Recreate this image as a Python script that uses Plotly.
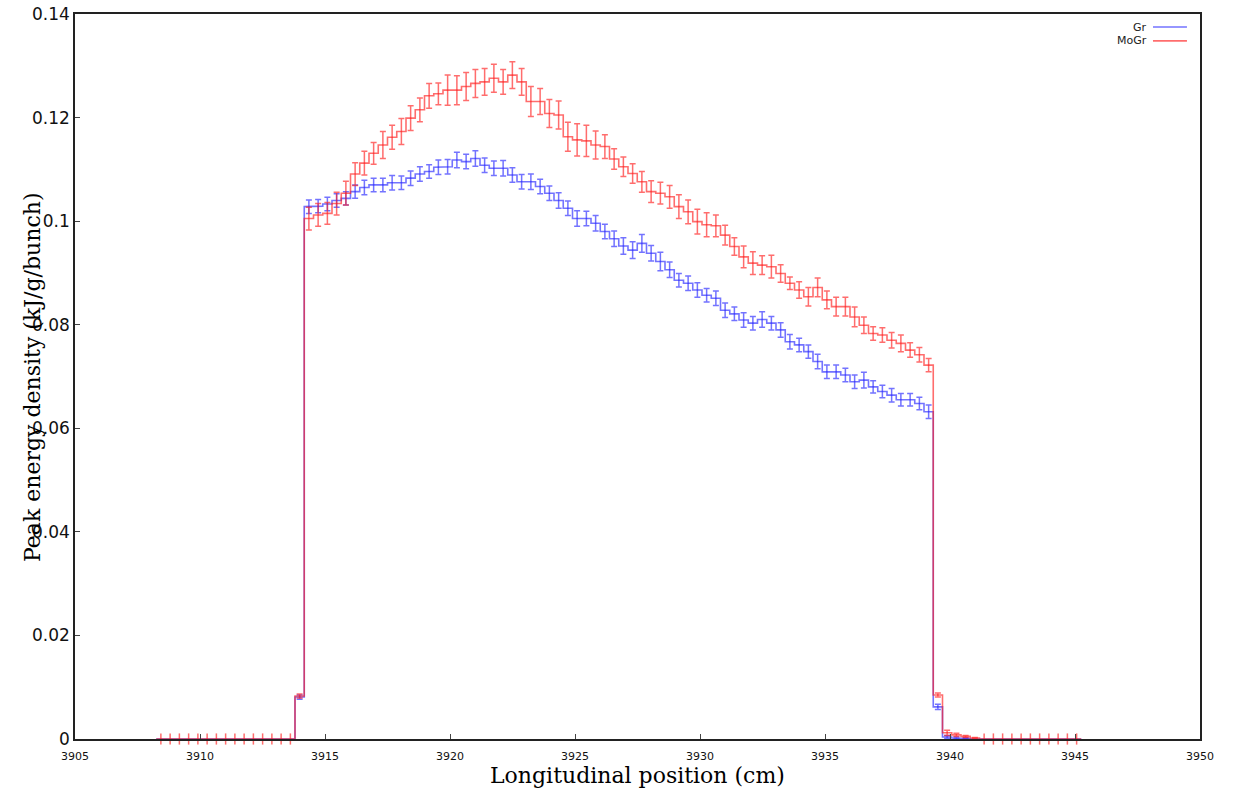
import numpy as np
import plotly.graph_objects as go

# Histogram binning along the beam axis (cm)
bin_start = 3908.25
bin_width = 0.37
n_bins = 100

# Peak energy density per bin (kJ/g/bunch)
gr_values = [
    0.0, 0.0, 0.0, 0.0, 0.0, 0.0, 0.0, 0.0, 0.0, 0.0,
    0.0, 0.0, 0.0, 0.0, 0.0, 0.0081,
    0.1028, 0.1029, 0.1033, 0.1040, 0.1044, 0.1057, 0.1065, 0.1070, 0.1070, 0.1074,
    0.1074, 0.1083, 0.1091, 0.1096, 0.1104, 0.1105, 0.1118, 0.1115, 0.1121, 0.1108,
    0.1102, 0.1102, 0.1089, 0.1076, 0.1076, 0.1067, 0.1054, 0.1040, 0.1025, 0.1005,
    0.1005, 0.0996, 0.0980, 0.0966, 0.0952, 0.0944, 0.0957, 0.0938, 0.0922, 0.0906,
    0.0886, 0.0880, 0.0867, 0.0857, 0.0851, 0.0828, 0.0821, 0.0809, 0.0803, 0.0810,
    0.0803, 0.0790, 0.0767, 0.0761, 0.0748, 0.0729, 0.0709, 0.0709, 0.0703, 0.0690,
    0.0693, 0.0680, 0.0671, 0.0664, 0.0655, 0.0655, 0.0648, 0.0632,
    0.0062, 0.0004, 0.0002, 0.0001, 0.0,
    0.0, 0.0, 0.0, 0.0, 0.0, 0.0, 0.0, 0.0, 0.0, 0.0, 0.0,
]
gr_errors = [
    0.0, 0.0, 0.0, 0.0, 0.0, 0.0, 0.0, 0.0, 0.0, 0.0,
    0.0, 0.0, 0.0, 0.0, 0.0, 0.0004,
    0.0013, 0.0013, 0.0013, 0.0013, 0.0013, 0.0013, 0.0014, 0.0013, 0.0013, 0.0014,
    0.0013, 0.0014, 0.0014, 0.0013, 0.0014, 0.0014, 0.0015, 0.0014, 0.0015, 0.0014,
    0.0014, 0.0015, 0.0014, 0.0014, 0.0015, 0.0014, 0.0014, 0.0015, 0.0014, 0.0015,
    0.0014, 0.0015, 0.0014, 0.0015, 0.0016, 0.0016, 0.0017, 0.0015, 0.0018, 0.0015,
    0.0013, 0.0014, 0.0014, 0.0013, 0.0014, 0.0014, 0.0013, 0.0014, 0.0013, 0.0015,
    0.0013, 0.0014, 0.0014, 0.0013, 0.0013, 0.0014, 0.0013, 0.0013, 0.0013, 0.0013,
    0.0015, 0.0012, 0.0012, 0.0013, 0.0012, 0.0012, 0.0012, 0.0013,
    0.0005, 0.0003, 0.0002, 0.0001, 0.0,
    0.0, 0.0, 0.0, 0.0, 0.0, 0.0, 0.0, 0.0, 0.0, 0.0, 0.0,
]

mogr_values = [
    0.0, 0.0, 0.0, 0.0, 0.0, 0.0, 0.0, 0.0, 0.0, 0.0,
    0.0, 0.0, 0.0, 0.0, 0.0, 0.0083,
    0.1005, 0.1012, 0.1015, 0.1034, 0.1054, 0.1091, 0.1112, 0.1131, 0.1147, 0.1162,
    0.1173, 0.1199, 0.1215, 0.1242, 0.1246, 0.1253, 0.1253, 0.1260, 0.1266, 0.1269,
    0.1276, 0.1269, 0.1282, 0.1269, 0.1231, 0.1231, 0.1208, 0.1205, 0.1163, 0.1157,
    0.1155, 0.1147, 0.1144, 0.1120, 0.1105, 0.1092, 0.1076, 0.1057, 0.1054, 0.1047,
    0.1028, 0.1018, 0.0999, 0.0993, 0.0991, 0.0973, 0.0951, 0.0931, 0.0919, 0.0915,
    0.0912, 0.0899, 0.0880, 0.0867, 0.0854, 0.0872, 0.0848, 0.0835, 0.0835, 0.0815,
    0.0799, 0.0783, 0.0780, 0.0770, 0.0764, 0.0751, 0.0742, 0.0722,
    0.0085, 0.0012, 0.0008, 0.0005, 0.0002,
    0.0, 0.0, 0.0, 0.0, 0.0, 0.0, 0.0, 0.0, 0.0, 0.0, 0.0,
]
mogr_errors = [
    0.0, 0.0, 0.0, 0.0, 0.0, 0.0, 0.0, 0.0, 0.0, 0.0,
    0.0, 0.0, 0.0, 0.0, 0.0, 0.0004,
    0.0022, 0.0022, 0.0021, 0.0022, 0.0023, 0.0022, 0.0023, 0.0021, 0.0026, 0.0023,
    0.0025, 0.0024, 0.0023, 0.0024, 0.0021, 0.0029, 0.0028, 0.0027, 0.0027, 0.0026,
    0.0027, 0.0024, 0.0026, 0.0026, 0.0029, 0.0025, 0.0027, 0.0027, 0.0028, 0.0031,
    0.0030, 0.0027, 0.0023, 0.0020, 0.0019, 0.0019, 0.0020, 0.0021, 0.0021, 0.0022,
    0.0023, 0.0023, 0.0024, 0.0023, 0.0021, 0.0019, 0.0017, 0.0021, 0.0022, 0.0018,
    0.0022, 0.0017, 0.0012, 0.0016, 0.0018, 0.0018, 0.0017, 0.0018, 0.0018, 0.0019,
    0.0016, 0.0013, 0.0014, 0.0015, 0.0016, 0.0014, 0.0014, 0.0013,
    0.0004, 0.0005, 0.0003, 0.0002, 0.0001,
    0.0, 0.0, 0.0, 0.0, 0.0, 0.0, 0.0, 0.0, 0.0, 0.0, 0.0,
]

x_ticks = [3905, 3910, 3915, 3920, 3925, 3930, 3935, 3940, 3945, 3950]
y_ticks = [0, 0.02, 0.04, 0.06, 0.08, 0.1, 0.12, 0.14]

edges = bin_start + bin_width * np.arange(n_bins + 1)
centers = 0.5 * (edges[:-1] + edges[1:])


def step_xy(vals):
    """Outline of a histogram: each bin drawn flat from edge to edge."""
    vals = np.asarray(vals)
    xs = np.repeat(edges, 2)[1:-1]
    ys = np.repeat(vals, 2)
    return xs, ys


# (name, values, errors, colour, mark empty bins on the axis)
series = [
    ("Gr", gr_values, gr_errors, "rgba(40,40,255,0.65)", False),
    ("MoGr", mogr_values, mogr_errors, "rgba(255,30,30,0.65)", True),
]

fig = go.Figure()
for name, vals, errs, color, mark_empty in series:
    vals = np.asarray(vals)
    errs = np.asarray(errs)
    xs, ys = step_xy(vals)
    fig.add_trace(go.Scatter(
        x=xs, y=ys, mode="lines", name=name,
        line=dict(color=color, width=1.6), showlegend=False,
        hoverinfo="skip",
    ))
    filled = vals > 0
    fig.add_trace(go.Scatter(
        x=centers[filled], y=vals[filled], mode="markers",
        marker=dict(size=1, color="rgba(0,0,0,0)"),
        error_y=dict(type="data", array=errs[filled], visible=True,
                     color=color, thickness=1.5, width=3),
        showlegend=False, hoverinfo="skip",
    ))
    if mark_empty:
        empty = ~filled
        fig.add_trace(go.Scatter(
            x=centers[empty], y=vals[empty], mode="markers",
            marker=dict(symbol="line-ns-open", size=8, color=color,
                        line=dict(color=color, width=1.5)),
            cliponaxis=False, showlegend=False, hoverinfo="skip",
        ))

# Legend entries in the top-right corner: label then a line sample
legend_rows = [("Gr", 0.982, "rgba(40,40,255,0.65)"),
               ("MoGr", 0.963, "rgba(255,30,30,0.65)")]
for label, yy, color in legend_rows:
    fig.add_annotation(x=0.9547, y=yy, xref="paper", yref="paper",
                       text=label, showarrow=False, xanchor="right",
                       yanchor="middle",
                       font=dict(family="DejaVu Sans", size=11, color="#222"))
    fig.add_shape(type="line", xref="paper", yref="paper",
                  x0=0.9582, x1=0.9884, y0=yy, y1=yy,
                  line=dict(color=color, width=1.6))

# Axis titles
fig.add_annotation(x=0.5004, y=-0.03, xref="paper", yref="paper",
                   text="Longitudinal position (cm)", showarrow=False,
                   xanchor="center", yanchor="top",
                   font=dict(family="DejaVu Serif", size=22, color="#000"))
fig.add_annotation(x=-0.0382, y=0.4993, xref="paper", yref="paper",
                   text="Peak energy density (kJ/g/bunch)", showarrow=False,
                   textangle=-90, xanchor="center", yanchor="middle",
                   font=dict(family="DejaVu Serif", size=22, color="#000"))

fig.update_xaxes(
    range=[3905, 3950], tickvals=x_ticks, ticktext=[str(v) for v in x_ticks],
    ticks="inside", ticklen=5, tickwidth=1, tickcolor="#444",
    showline=True, linecolor="#222", linewidth=1.5, mirror=True,
    showgrid=False, zeroline=False, ticklabelstandoff=6, automargin=False,
    tickfont=dict(family="DejaVu Sans", size=11, color="#111"),
)
fig.update_yaxes(
    range=[0, 0.14], tickvals=y_ticks,
    ticktext=["0", "0.02", "0.04", "0.06", "0.08", "0.1", "0.12", "0.14"],
    ticks="inside", ticklen=5, tickwidth=1, tickcolor="#444",
    showline=True, linecolor="#222", linewidth=1.5, mirror=True,
    showgrid=False, zeroline=False, automargin=False,
    tickfont=dict(family="DejaVu Sans", size=17, color="#111"),
)
fig.update_layout(
    width=1234, height=791,
    margin=dict(l=75, r=34, t=14, b=52),
    paper_bgcolor="white", plot_bgcolor="white",
    showlegend=False,
)

fig.write_html("out.html")
